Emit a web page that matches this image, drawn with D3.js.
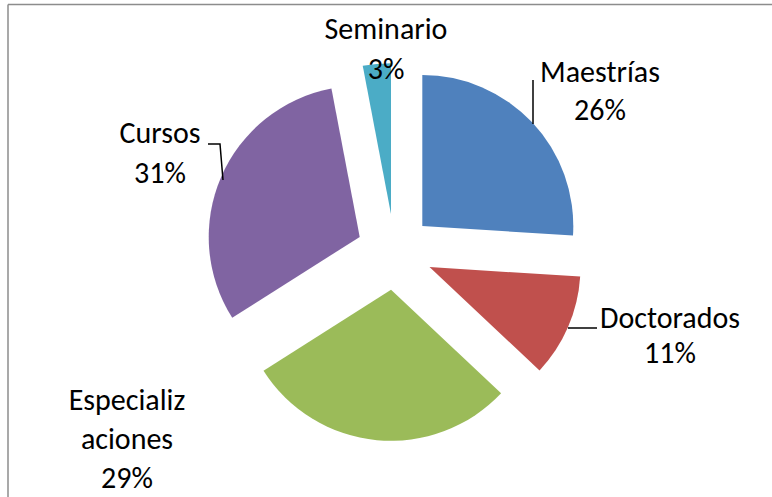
<!DOCTYPE html>
<html>
<head>
<meta charset="utf-8">
<script src="https://cdn.jsdelivr.net/npm/d3@7"></script>
<style>
  body { margin: 0; background: #fff; }
  text { font-family: Carlito, Lato, "Open Sans", sans-serif; fill: #000; }
</style>
</head>
<body>
<div id="chart"></div>
<script>
// data
let categories = ["Maestrías", "Doctorados", "Especializaciones", "Cursos", "Seminario"];
let values = [26, 11, 29, 31, 3];
let colors = ["#4F81BD", "#C0504D", "#9BBB59", "#8064A2", "#4BACC6"];

// label text lines (Excel wrapped the long one)
let labelNames = [["Maestrías"], ["Doctorados"], ["Especializ", "aciones"], ["Cursos"], ["Seminario"]];

// layout for the labels: center x and baseline of first line, line step
let labelPos = [
  { x: 600, y: 82, step: 38 },
  { x: 670, y: 328, step: 35 },
  { x: 127, y: 410, step: 39 },
  { x: 160, y: 143, step: 40 },
  { x: 386, y: 39, step: 40 }
];
// leader lines
let leaders = [
  [[533, 80], [533, 124]],
  [[568, 328], [597, 328]],
  null,
  [[208, 144], [220, 144], [223, 180]],
  null
];

let svgWidth = 772;
let svgHeight = 497;
let cx = 394.6, cy = 252;
let radius = 151;
let explode = 38;

let svg = d3.select("#chart")
  .append("svg")
  .attr("width", svgWidth)
  .attr("height", svgHeight);

// frame (only top and left visible)
svg.append("line")
  .attr("x1", 8).attr("y1", 4.5).attr("x2", svgWidth).attr("y2", 4.5)
  .attr("stroke", "#8c8c8c").attr("stroke-width", 1.5);
svg.append("line")
  .attr("x1", 8).attr("y1", 4.5).attr("x2", 8).attr("y2", svgHeight)
  .attr("stroke", "#8c8c8c").attr("stroke-width", 1.5);

let pieData = values.map((v, i) => ({ name: categories[i], value: v, i: i }));

let pie = d3.pie()
  .sort(null)
  .value(d => d.value);

let arc = d3.arc()
  .innerRadius(0)
  .outerRadius(radius);

let arcs = pie(pieData);
let total = d3.sum(values);

let pieGroup = svg.append("g")
  .attr("transform", `translate(${cx}, ${cy})`);

pieGroup.selectAll("path")
  .data(arcs)
  .enter()
  .append("path")
  .attr("d", arc)
  .attr("fill", d => colors[d.data.i])
  .attr("transform", d => {
    let mid = (d.startAngle + d.endAngle) / 2;
    return `translate(${Math.sin(mid) * explode}, ${-Math.cos(mid) * explode})`;
  });

// leader lines
let lineGen = d3.line();
leaders.forEach(pts => {
  if (!pts) return;
  svg.append("path")
    .attr("d", lineGen(pts))
    .attr("fill", "none")
    .attr("stroke", "#000")
    .attr("stroke-width", 1.5);
});

// data labels
arcs.forEach((d, i) => {
  let pos = labelPos[i];
  let lines = labelNames[i].concat([Math.round(d.data.value / total * 100) + "%"]);
  let t = svg.append("text")
    .attr("text-anchor", "middle")
    .attr("font-size", 30);
  lines.forEach((ln, k) => {
    t.append("tspan")
      .attr("x", pos.x)
      .attr("y", pos.y + k * pos.step)
      .text(ln);
  });
});
</script>
</body>
</html>
